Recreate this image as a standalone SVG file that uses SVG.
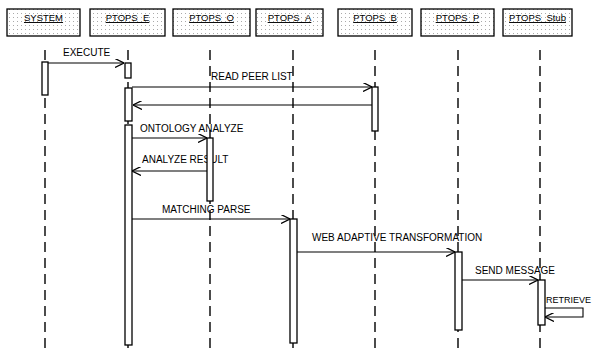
<svg xmlns="http://www.w3.org/2000/svg" width="594" height="349" viewBox="0 0 594 349">
<defs>
<pattern id="dots" width="4" height="4" patternUnits="userSpaceOnUse">
<rect width="4" height="4" fill="#fff"/>
<rect x="1" y="1" width="1" height="1" fill="#aaa"/>
</pattern>
<marker id="ah" viewBox="0 0 10 10" refX="10" refY="5" markerWidth="9" markerHeight="9" markerUnits="userSpaceOnUse" orient="auto">
<path d="M0,0 L10,5 L0,10" fill="none" stroke="#000" stroke-width="1.4"/>
</marker>
<style>
.hd{fill:url(#dots);stroke:#000;stroke-width:1.3}
.ht{font-family:"Liberation Sans",Arial,sans-serif;font-size:9.5px;text-anchor:middle;text-decoration:underline;fill:#000}
.ll{stroke:#000;stroke-width:1.4;stroke-dasharray:10,6;fill:none}
.bar{fill:#fff;stroke:#000;stroke-width:1.3}
.msg{stroke:#000;stroke-width:1.1;fill:none;marker-end:url(#ah)}
.lb{font-family:"Liberation Sans",Arial,sans-serif;font-size:10px;fill:#000}
</style>
</defs>
<g id="connectors">
<line class="msg" x1="48" y1="63" x2="124" y2="63"/>
<line class="msg" x1="132" y1="87" x2="372" y2="87"/>
<line class="msg" x1="375" y1="105" x2="133" y2="105"/>
<line class="msg" x1="132" y1="138" x2="207" y2="138"/>
<line class="msg" x1="207" y1="171" x2="132" y2="171"/>
<line class="msg" x1="132" y1="219" x2="290" y2="219"/>
<line class="msg" x1="297" y1="252" x2="455" y2="252"/>
<line class="msg" x1="462" y1="280" x2="538" y2="280"/>
<polyline class="msg" points="545,308 583,308 583,317 545,317"/>
<text class="lb" x="63" y="56">EXECUTE</text>
<text class="lb" x="211" y="80">READ PEER LIST</text>
<text class="lb" x="140" y="132">ONTOLOGY ANALYZE</text>
<text class="lb" x="142" y="163">ANALYZE RESULT</text>
<text class="lb" x="162" y="213">MATCHING PARSE</text>
<text class="lb" x="312" y="241">WEB ADAPTIVE TRANSFORMATION</text>
<text class="lb" x="475" y="274">SEND MESSAGE</text>
<text class="lb" x="546" y="303" style="font-size:9px">RETRIEVE</text>
</g>
<g id="SYSTEM">
<rect class="hd" x="7" y="9" width="73" height="27"/>
<text class="ht" x="43.5" y="21">SYSTEM</text>
<line class="ll" x1="45" y1="50" x2="45" y2="349"/>
<rect class="bar" x="42" y="62" width="6" height="33"/>
</g>
<g id="PTOPS_E">
<rect class="hd" x="90" y="9" width="75" height="27"/>
<text class="ht" x="127.5" y="21">PTOPS_E</text>
<line class="ll" x1="128" y1="50" x2="128" y2="349"/>
<rect class="bar" x="125" y="63" width="6" height="15"/>
<rect class="bar" x="125" y="88" width="7" height="33"/>
<rect class="bar" x="125" y="125" width="7" height="220"/>
</g>
<g id="PTOPS_O">
<rect class="hd" x="173" y="9" width="77" height="27"/>
<text class="ht" x="211.5" y="21">PTOPS_O</text>
<line class="ll" x1="210" y1="50" x2="210" y2="349"/>
<rect class="bar" x="207" y="138" width="6" height="63"/>
</g>
<g id="PTOPS_A">
<rect class="hd" x="256" y="9" width="67" height="27"/>
<text class="ht" x="289.5" y="21">PTOPS_A</text>
<line class="ll" x1="293" y1="50" x2="293" y2="349"/>
<rect class="bar" x="290" y="219" width="7" height="124"/>
</g>
<g id="PTOPS_B">
<rect class="hd" x="338" y="9" width="74" height="27"/>
<text class="ht" x="375" y="21">PTOPS_B</text>
<line class="ll" x1="375" y1="50" x2="375" y2="349"/>
<rect class="bar" x="372" y="87" width="6" height="44"/>
</g>
<g id="PTOPS_P">
<rect class="hd" x="421" y="9" width="73" height="27"/>
<text class="ht" x="457.5" y="21">PTOPS_P</text>
<line class="ll" x1="458" y1="50" x2="458" y2="349"/>
<rect class="bar" x="455" y="252" width="7" height="78"/>
</g>
<g id="PTOPS_Stub">
<rect class="hd" x="503" y="9" width="69" height="27"/>
<text class="ht" x="537.5" y="21">PTOPS_Stub</text>
<line class="ll" x1="540" y1="50" x2="540" y2="349"/>
<rect class="bar" x="538" y="280" width="7" height="45"/>
</g>
</svg>
